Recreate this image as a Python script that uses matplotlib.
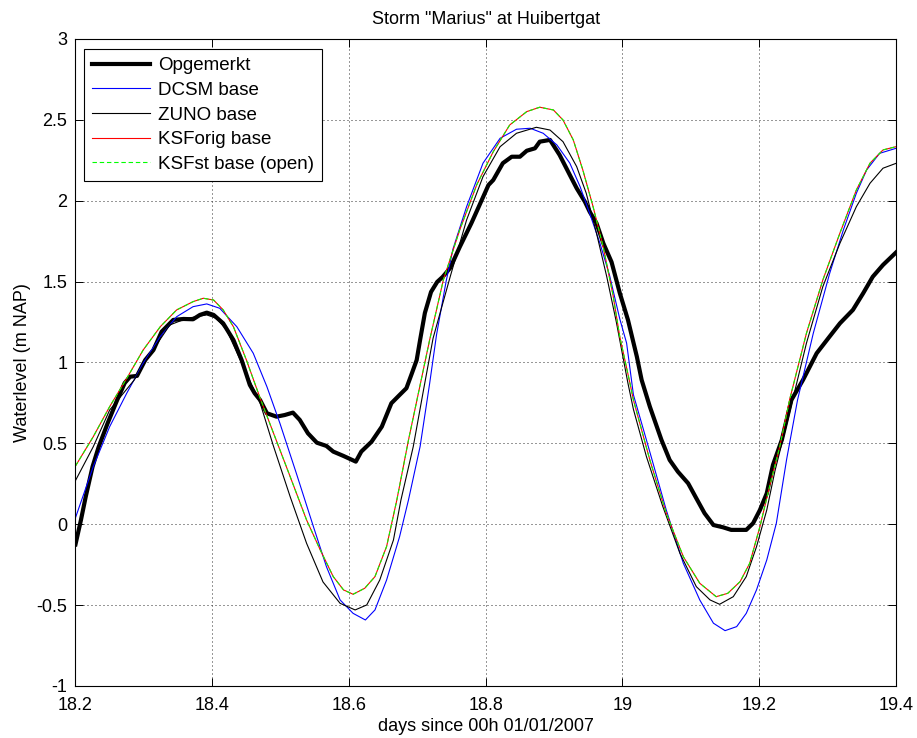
import matplotlib
matplotlib.use("Agg")
import matplotlib.pyplot as plt

plt.rcParams["font.family"] = ["Liberation Sans", "DejaVu Sans"]

# Measured water level (thick black)
t_obs = [18.200, 18.208, 18.215, 18.225, 18.234, 18.247, 18.261, 18.272, 18.280, 18.290,
         18.302, 18.314, 18.326, 18.343, 18.358, 18.372, 18.382, 18.392, 18.402, 18.416,
         18.431, 18.443, 18.455, 18.462, 18.470, 18.480, 18.494, 18.506, 18.518, 18.528,
         18.540, 18.553, 18.567, 18.577, 18.592, 18.610, 18.618, 18.633, 18.648, 18.662,
         18.674, 18.684, 18.692, 18.699, 18.704, 18.711, 18.720, 18.729, 18.737, 18.748,
         18.762, 18.779, 18.791, 18.804, 18.811, 18.825, 18.838, 18.850, 18.860, 18.872,
         18.879, 18.894, 18.908, 18.923, 18.933, 18.945, 18.952, 18.962, 18.972, 18.984,
         18.996, 19.008, 19.021, 19.028, 19.040, 19.057, 19.069, 19.081, 19.096, 19.108,
         19.120, 19.133, 19.147, 19.159, 19.181, 19.191, 19.201, 19.211, 19.220, 19.233,
         19.247, 19.264, 19.284, 19.301, 19.318, 19.337, 19.352, 19.366, 19.381, 19.400]
h_obs = [-0.125, 0.026, 0.170, 0.356, 0.479, 0.624, 0.768, 0.873, 0.912, 0.917,
         1.015, 1.077, 1.190, 1.263, 1.269, 1.267, 1.294, 1.308, 1.294, 1.242,
         1.139, 1.015, 0.861, 0.810, 0.768, 0.686, 0.665, 0.675, 0.690, 0.645,
         0.562, 0.504, 0.484, 0.449, 0.422, 0.387, 0.449, 0.510, 0.603, 0.748,
         0.799, 0.841, 0.933, 1.015, 1.139, 1.306, 1.436, 1.498, 1.529, 1.584,
         1.714, 1.861, 1.974, 2.097, 2.128, 2.232, 2.272, 2.272, 2.309, 2.324,
         2.365, 2.376, 2.283, 2.159, 2.077, 1.994, 1.932, 1.861, 1.737, 1.621,
         1.430, 1.263, 1.036, 0.892, 0.727, 0.521, 0.397, 0.325, 0.253, 0.160,
         0.068, -0.005, -0.019, -0.035, -0.035, 0.006, 0.088, 0.191, 0.366, 0.521,
         0.768, 0.892, 1.057, 1.150, 1.242, 1.325, 1.428, 1.530, 1.603, 1.680]

# DCSM model
t_dcsm = [18.200, 18.226, 18.250, 18.275, 18.299, 18.324, 18.348, 18.372, 18.392, 18.411,
          18.436, 18.460, 18.480, 18.499, 18.523, 18.548, 18.567, 18.587, 18.606, 18.624,
          18.638, 18.655, 18.674, 18.687, 18.704, 18.718, 18.728, 18.742, 18.752, 18.772,
          18.796, 18.821, 18.845, 18.865, 18.884, 18.904, 18.923, 18.938, 18.952, 18.967,
          18.981, 18.996, 19.006, 19.016, 19.035, 19.064, 19.089, 19.113, 19.133, 19.150,
          19.167, 19.181, 19.196, 19.211, 19.225, 19.240, 19.256, 19.279, 19.303, 19.323,
          19.342, 19.357, 19.376, 19.400]
h_dcsm = [0.040, 0.356, 0.603, 0.810, 0.995, 1.160, 1.283, 1.345, 1.362, 1.335,
          1.221, 1.057, 0.850, 0.624, 0.315, -0.015, -0.262, -0.468, -0.551, -0.592,
          -0.530, -0.345, -0.077, 0.150, 0.480, 0.871, 1.170, 1.500, 1.700, 1.963,
          2.232, 2.386, 2.442, 2.448, 2.417, 2.345, 2.232, 2.087, 1.922, 1.737,
          1.540, 1.270, 1.120, 0.800, 0.521, 0.088, -0.242, -0.468, -0.612, -0.658,
          -0.633, -0.551, -0.406, -0.221, 0.006, 0.400, 0.768, 1.180, 1.551, 1.819,
          2.046, 2.190, 2.293, 2.324]

# ZUNO model
t_zuno = [18.200, 18.226, 18.250, 18.286, 18.309, 18.338, 18.363, 18.392, 18.406, 18.421,
          18.450, 18.470, 18.489, 18.514, 18.538, 18.562, 18.587, 18.609, 18.626, 18.645,
          18.665, 18.676, 18.694, 18.709, 18.723, 18.748, 18.772, 18.796, 18.821, 18.845,
          18.874, 18.894, 18.913, 18.933, 18.947, 18.962, 18.977, 18.991, 19.008, 19.016,
          19.035, 19.059, 19.084, 19.108, 19.128, 19.142, 19.162, 19.181, 19.196, 19.211,
          19.223, 19.242, 19.269, 19.293, 19.318, 19.342, 19.362, 19.381, 19.400]
h_zuno = [0.270, 0.479, 0.706, 0.892, 1.050, 1.232, 1.273, 1.294, 1.273, 1.201,
          0.933, 0.750, 0.490, 0.170, -0.118, -0.357, -0.489, -0.530, -0.499, -0.345,
          -0.098, 0.150, 0.480, 0.830, 1.150, 1.530, 1.881, 2.149, 2.334, 2.417,
          2.454, 2.437, 2.365, 2.211, 2.046, 1.799, 1.530, 1.250, 0.871, 0.710,
          0.418, 0.109, -0.180, -0.386, -0.468, -0.495, -0.448, -0.324, -0.139, 0.088,
          0.330, 0.650, 1.119, 1.469, 1.737, 1.963, 2.108, 2.201, 2.231]

# KSF model, original setup
t_ksforig = [18.200, 18.226, 18.250, 18.275, 18.299, 18.324, 18.348, 18.372, 18.387, 18.402,
             18.416, 18.431, 18.450, 18.470, 18.489, 18.514, 18.538, 18.558, 18.577, 18.592,
             18.606, 18.623, 18.638, 18.655, 18.670, 18.687, 18.704, 18.718, 18.738, 18.762,
             18.787, 18.811, 18.835, 18.860, 18.879, 18.899, 18.913, 18.928, 18.942, 18.957,
             18.972, 18.986, 18.996, 19.011, 19.016, 19.040, 19.064, 19.089, 19.113, 19.137,
             19.154, 19.172, 19.186, 19.201, 19.215, 19.230, 19.245, 19.269, 19.293, 19.318,
             19.342, 19.362, 19.381, 19.400]
h_ksforig = [0.360, 0.541, 0.727, 0.902, 1.077, 1.221, 1.325, 1.376, 1.397, 1.386,
             1.325, 1.221, 1.015, 0.780, 0.570, 0.294, 0.026, -0.159, -0.324, -0.406,
             -0.433, -0.396, -0.324, -0.138, 0.150, 0.520, 0.860, 1.140, 1.510, 1.820,
             2.100, 2.303, 2.468, 2.551, 2.578, 2.561, 2.499, 2.376, 2.190, 1.963,
             1.710, 1.420, 1.160, 0.870, 0.768, 0.397, 0.068, -0.201, -0.365, -0.448,
             -0.427, -0.355, -0.242, -0.015, 0.232, 0.480, 0.780, 1.180, 1.510, 1.800,
             2.066, 2.232, 2.314, 2.334]

# KSF model, storm setup with open boundary
t_ksfst = list(t_ksforig)
h_ksfst = [0.360, 0.541, 0.727, 0.902, 1.077, 1.221, 1.325, 1.376, 1.397, 1.386,
           1.325, 1.221, 1.015, 0.780, 0.570, 0.294, 0.026, -0.159, -0.324, -0.406,
           -0.433, -0.396, -0.324, -0.138, 0.150, 0.520, 0.860, 1.140, 1.510, 1.820,
           2.100, 2.303, 2.468, 2.551, 2.578, 2.561, 2.499, 2.376, 2.190, 1.963,
           1.710, 1.420, 1.160, 0.870, 0.768, 0.397, 0.068, -0.201, -0.365, -0.448,
           -0.427, -0.355, -0.242, -0.015, 0.232, 0.480, 0.780, 1.180, 1.510, 1.800,
           2.066, 2.232, 2.314, 2.334]

labels = ["Opgemerkt", "DCSM base", "ZUNO base", "KSForig base", "KSFst base (open)"]
x_ticks = [18.2, 18.4, 18.6, 18.8, 19.0, 19.2, 19.4]
x_ticklabels = ["18.2", "18.4", "18.6", "18.8", "19", "19.2", "19.4"]
y_ticks = [-1, -0.5, 0, 0.5, 1, 1.5, 2, 2.5, 3]
y_ticklabels = ["-1", "-0.5", "0", "0.5", "1", "1.5", "2", "2.5", "3"]

fig = plt.figure(figsize=(9.17, 7.38), dpi=100)
ax = fig.add_axes([0.0823, 0.0705, 0.8948, 0.8767])

ax.plot(t_obs, h_obs, color="black", lw=3.0, label=labels[0])
ax.plot(t_dcsm, h_dcsm, color="#0000ff", lw=0.8, label=labels[1])
ax.plot(t_zuno, h_zuno, color="black", lw=0.8, label=labels[2])
ax.plot(t_ksforig, h_ksforig, color="#ff0000", lw=0.8, label=labels[3])
ax.plot(t_ksfst, h_ksfst, color="#00ff00", lw=0.8, dashes=(4, 2.5), label=labels[4])

ax.set_xlim(18.2, 19.4)
ax.set_ylim(-1, 3)
ax.set_xticks(x_ticks)
ax.set_xticklabels(x_ticklabels)
ax.set_yticks(y_ticks)
ax.set_yticklabels(y_ticklabels)

ax.grid(True, color="#333333", lw=0.72, linestyle=(0, (1, 3)))
ax.tick_params(direction="in", length=6, width=0.7, top=True, right=True,
               labelsize=13, pad=6)
ax.tick_params(axis="x", pad=8)
for sp in ax.spines.values():
    sp.set_linewidth(0.8)

ax.set_title('Storm "Marius" at Huibertgat', fontsize=13, pad=11)
ax.set_xlabel("days since 00h 01/01/2007", fontsize=13, labelpad=3)
ax.set_ylabel("Waterlevel (m NAP)", fontsize=13, labelpad=4)

leg = ax.legend(loc="upper left", bbox_to_anchor=(0.0107, 0.984), borderaxespad=0,
                fontsize=13.5, handlelength=3.1, handletextpad=0.4, labelspacing=0.40,
                borderpad=0.42, fancybox=False, framealpha=1, edgecolor="black")
leg.get_frame().set_linewidth(0.8)

fig.savefig("out.png", dpi=100)
